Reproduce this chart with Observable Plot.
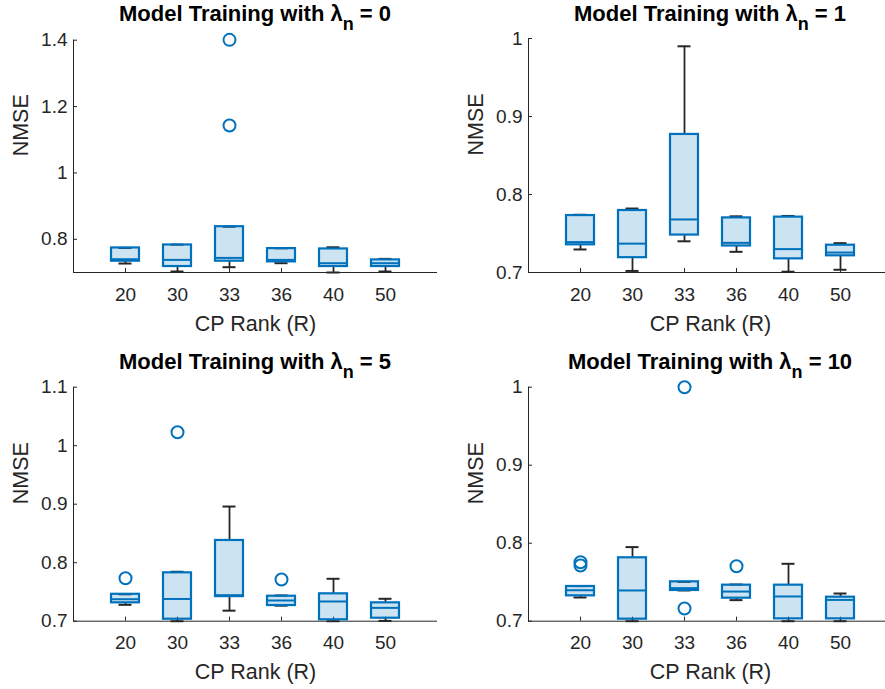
<!DOCTYPE html>
<html><head><meta charset="utf-8">
<script src="https://cdn.jsdelivr.net/npm/d3@7"></script>
<script src="https://cdn.jsdelivr.net/npm/@observablehq/plot@0.6"></script>
<style>
body{margin:0;background:#fff;}
#root{position:relative;width:885px;height:689px;overflow:hidden;font-family:"Liberation Sans",Arial,Helvetica,sans-serif;background:#fff;}
.panel{position:absolute;}
.title{position:absolute;text-align:center;font-weight:bold;font-size:22px;line-height:22px;color:#000;white-space:nowrap;}
.title sub{font-size:18px;vertical-align:-9px;line-height:0;}
</style>
</head><body>
<div id="root"></div>
<script>
// Categories (CP rank) and panel parameters
const ranks = ["20", "30", "33", "36", "40", "50"];
const lambdas = ["0", "1", "5", "10"];
const yDomains = [[0.7, 1.4], [0.7, 1.0], [0.7, 1.1], [0.7, 1.0]];
const yTicks = [[0.8, 1, 1.2, 1.4], [0.7, 0.8, 0.9, 1], [0.7, 0.8, 0.9, 1, 1.1], [0.7, 0.8, 0.9, 1]];

// Box statistics, one row per panel (lambda_n = 0, 1, 5, 10), one value per rank
const whiskerLow = [
  [0.727, 0.703, 0.716, 0.728, 0.700, 0.703],
  [0.7295, 0.702, 0.740, 0.7265, 0.701, 0.7035],
  [0.728, 0.700, 0.718, 0.7265, 0.700, 0.7005],
  [0.7304, 0.700, 0.7394, 0.727, 0.700, 0.700]
];
const quart1 = [
  [0.734, 0.718, 0.734, 0.732, 0.718, 0.718],
  [0.7355, 0.719, 0.748, 0.734, 0.7175, 0.7214],
  [0.7314, 0.7034, 0.742, 0.7268, 0.7024, 0.7051],
  [0.7325, 0.7026, 0.7394, 0.7295, 0.703, 0.703]
];
const medians = [
  [0.740, 0.738, 0.744, 0.738, 0.728, 0.728],
  [0.739, 0.737, 0.768, 0.738, 0.730, 0.7256],
  [0.7376, 0.738, 0.7445, 0.7354, 0.7337, 0.7228],
  [0.7397, 0.7394, 0.7424, 0.738, 0.7317, 0.7273]
];
const quart3 = [
  [0.774, 0.783, 0.838, 0.772, 0.771, 0.738],
  [0.773, 0.7795, 0.877, 0.770, 0.771, 0.735],
  [0.746, 0.7827, 0.838, 0.7427, 0.7468, 0.7314],
  [0.7445, 0.7813, 0.7505, 0.7462, 0.7462, 0.7308]
];
const whiskerHigh = [
  [0.774, 0.784, 0.838, 0.773, 0.776, 0.741],
  [0.774, 0.782, 0.990, 0.772, 0.7725, 0.7376],
  [0.746, 0.7845, 0.896, 0.744, 0.7725, 0.7383],
  [0.745, 0.795, 0.7505, 0.747, 0.7736, 0.7355]
];
// Outliers: [rank, value]
const outliers0 = [["33", 1.401], ["33", 1.143]];
const outliers1 = [];
const outliers5 = [["20", 0.7735], ["30", 1.023], ["36", 0.7713]];
const outliers10 = [["20", 0.7755], ["20", 0.7715], ["33", 1.0], ["33", 0.7163], ["36", 0.7705]];
const outlierSets = [outliers0, outliers1, outliers5, outliers10];

const BLUE = "#0072BD";
const INK = "#262626";
const FONT = "'Liberation Sans', Arial, Helvetica, sans-serif";

const layouts = [
  {left: 0,   top: 0,   width: 442, height: 340, ml: 73, mr: 5, mt: 39.7, mb: 68},
  {left: 442, top: 0,   width: 450, height: 340, ml: 86, mr: 0, mt: 38,   mb: 68},
  {left: 0,   top: 340, width: 442, height: 349, ml: 73, mr: 5, mt: 46.7, mb: 68.3},
  {left: 442, top: 340, width: 450, height: 349, ml: 86, mr: 0, mt: 46.7, mb: 68.3}
];
const titleTops = [3.1, 3.1, 350.7, 350.7];

const root = document.getElementById("root");

lambdas.forEach((lam, i) => {
  const L = layouts[i];
  const rows = ranks.map((r, j) => ({
    rank: r, lo: whiskerLow[i][j], q1: quart1[i][j], med: medians[i][j],
    q3: quart3[i][j], hi: whiskerHigh[i][j]
  }));
  const outs = outlierSets[i].map(([r, v]) => ({rank: r, v}));
  const chart = Plot.plot({
    width: L.width, height: L.height,
    marginLeft: L.ml, marginRight: L.mr, marginTop: L.mt, marginBottom: L.mb,
    style: {fontFamily: FONT, fontSize: "19px", color: INK, background: "transparent"},
    x: {domain: ranks, type: "band", paddingInner: 0.463, paddingOuter: 0.7315, align: 0.5},
    y: {domain: yDomains[i]},
    marks: [
      Plot.frame({anchor: "left", stroke: INK, strokeWidth: 1}),
      Plot.ruleY([yDomains[i][0]], {stroke: INK, strokeWidth: 1}),
      Plot.axisX({tickSize: -4, tickPadding: 18.5, label: null, stroke: INK}),
      Plot.axisY({ticks: yTicks[i], tickSize: -4, tickPadding: 10, tickFormat: d => String(d), label: null, stroke: INK}),
      // whiskers
      Plot.ruleX(rows, {x: "rank", y1: "lo", y2: "q1", stroke: INK, strokeWidth: 1.8}),
      Plot.ruleX(rows, {x: "rank", y1: "q3", y2: "hi", stroke: INK, strokeWidth: 1.8}),
      Plot.tickY(rows, {x: "rank", y: "lo", stroke: INK, strokeWidth: 2, insetLeft: 7.5, insetRight: 7.5}),
      Plot.tickY(rows, {x: "rank", y: "hi", stroke: INK, strokeWidth: 2, insetLeft: 7.5, insetRight: 7.5}),
      // boxes
      Plot.barY(rows, {x: "rank", y1: "q1", y2: "q3", fill: BLUE, fillOpacity: 0.2, stroke: BLUE, strokeWidth: 2.2}),
      Plot.tickY(rows, {x: "rank", y: "med", stroke: BLUE, strokeWidth: 2}),
      // outliers
      Plot.dot(outs, {x: "rank", y: "v", r: 6, stroke: BLUE, strokeWidth: 2, fill: "none"}),
      // axis titles
      Plot.text(["CP Rank (R)"], {text: d => d, frameAnchor: "bottom", dy: 58, lineAnchor: "bottom", fontSize: 21.5, fill: INK}),
      Plot.text(["NMSE"], {text: d => d, frameAnchor: "left", dx: -52, rotate: -90, fontSize: 21.5, fill: INK})
    ]
  });
  chart.classList.add("panel");
  chart.style.left = L.left + "px";
  chart.style.top = L.top + "px";
  root.appendChild(chart);

  const t = document.createElement("div");
  t.className = "title";
  t.style.left = (L.left + L.ml) + "px";
  t.style.width = (L.width - L.ml - L.mr) + "px";
  t.style.top = titleTops[i] + "px";
  t.innerHTML = "Model Training with λ<sub>n</sub> = " + lam;
  root.appendChild(t);
});
</script>
</body></html>
